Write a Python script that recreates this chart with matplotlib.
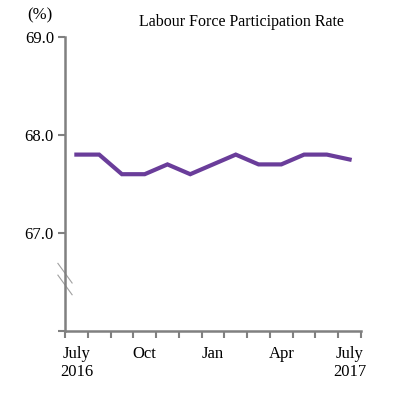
import numpy as np
import matplotlib.pyplot as plt
import matplotlib.transforms as mtransforms

plt.rcParams['font.family'] = ['Liberation Serif', 'DejaVu Serif']

months = ["Jul", "Aug", "Sep", "Oct", "Nov", "Dec", "Jan",
          "Feb", "Mar", "Apr", "May", "Jun", "Jul"]
rate = [67.8, 67.8, 67.6, 67.6, 67.7, 67.6, 67.7,
        67.8, 67.7, 67.7, 67.8, 67.8, 67.75]
label_pos = [0, 3, 6, 9, 12]
label_txt = ["July\n2016", "Oct", "Jan", "Apr", "July\n2017"]
ytick_vals = [66, 67, 68, 69]
ytick_txt = ["", "67.0", "68.0", "69.0"]

grey = "#808080"

fig = plt.figure(figsize=(4.01, 3.94), dpi=100)
ax = fig.add_axes([65/401, (394-331)/394, (361-65)/401, (331-37)/394])

x = np.arange(len(months))
ax.plot(x, rate, color="#6a3d9a", lw=3.0, solid_joinstyle="miter")

ax.set_xlim(-0.5, len(months) - 0.5)
ax.set_ylim(66, 69)

for s in ["top", "right"]:
    ax.spines[s].set_visible(False)
for s in ["left", "bottom"]:
    ax.spines[s].set_color(grey)
    ax.spines[s].set_linewidth(1.8)

ax.set_yticks(ytick_vals)
ax.set_yticklabels(ytick_txt, fontsize=12)
ax.tick_params(axis="y", direction="out", length=5, width=1.5, color=grey, pad=3)

ax.set_xticks(label_pos)
ax.set_xticklabels(label_txt, fontsize=12, linespacing=1.15)
ax.set_xticks(np.arange(-0.5, len(months)), minor=True)
ax.tick_params(axis="x", which="major", length=0, pad=11)
ax.tick_params(axis="x", which="minor", direction="out", length=5, width=1.5, color=grey)

# axis break marks
trans = mtransforms.blended_transform_factory(ax.transAxes, ax.transData)
for y0 in [66.69, 66.57]:
    ax.plot([-0.024, 0.024], [y0, y0 - 0.2], color="#a0a0a0", lw=0.8,
            transform=trans, clip_on=False)

fig.text(40/401, 1 - 15/394, "(%)", fontsize=12, ha="center", va="center")
fig.text(241/401, 1 - 22/394, "Labour Force Participation Rate", fontsize=11.5,
         ha="center", va="center")

fig.savefig("out.png", dpi=100)
